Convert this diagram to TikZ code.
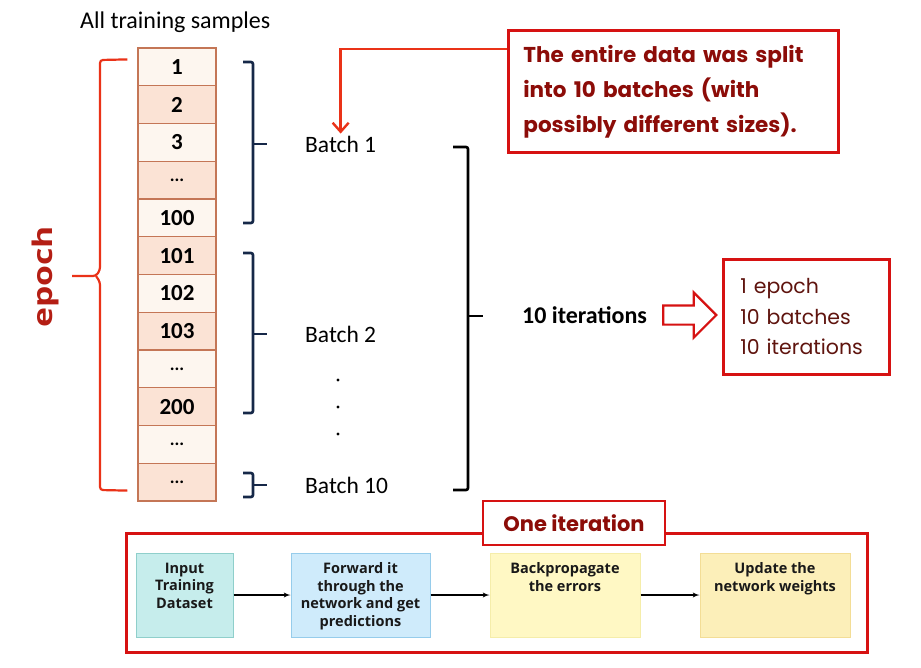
\documentclass[tikz,border=0pt]{standalone}
\usepackage{fontspec}
\usepackage{graphicx}
\setmainfont{Carlito}
\newfontfamily\popfont{Poppins}
\newfontfamily\osfont{Open Sans}
\usetikzlibrary{shapes,arrows,arrows.meta,calc}
\usepackage{color}

\definecolor{cellpale}{RGB}{253,246,239}
\definecolor{cellpeach}{RGB}{251,227,213}
\definecolor{cellline}{RGB}{196,118,86}
\definecolor{bracenavy}{RGB}{22,40,72}
\definecolor{epochred}{RGB}{234,50,24}
\definecolor{epochtext}{RGB}{180,30,20}
\definecolor{boxred}{RGB}{214,18,18}
\definecolor{notered}{RGB}{140,12,8}
\definecolor{sumred}{RGB}{95,20,14}
\definecolor{tealfill}{RGB}{198,237,236}
\definecolor{tealline}{RGB}{143,207,203}
\definecolor{bluefill}{RGB}{207,235,251}
\definecolor{blueline}{RGB}{150,204,235}
\definecolor{yellowfill}{RGB}{255,248,196}
\definecolor{yellowline}{RGB}{245,237,170}
\definecolor{sandfill}{RGB}{252,239,185}
\definecolor{sandline}{RGB}{243,221,150}

\newcommand{\moredots}{{\fontsize{18}{18}\selectfont\bfseries ...}}

\tikzset{
  cell/.style={draw=cellline, line width=1.2pt, minimum width=78pt, minimum height=37.75pt,
    inner sep=0pt, font=\fontsize{23}{23}\selectfont\bfseries},
  batchlabel/.style={anchor=west, inner sep=0pt, font=\fontsize{23.5}{23.5}\selectfont},
  navybrace/.style={draw=bracenavy, line width=2.6pt, rounded corners=2pt},
  redbox/.style={draw=boxred, line width=2.8pt},
  stepbox/.style={minimum height=84pt, line width=1pt, inner sep=0pt},
  steptext/.style={anchor=north, align=center, inner sep=0pt, text=black!90,
    font=\osfont\bfseries\fontsize{14.5}{17.5}\selectfont},
  steparrow/.style={->, line width=1.3pt}
}

\begin{document}
\begin{tikzpicture}[x=1pt, y=-1pt, >=latex']
\useasboundingbox[fill=white] (0,0) rectangle (921,667);

\node[anchor=west, inner sep=0pt, font=\fontsize{24}{24}\selectfont] at (80, 22) (TITLE) {All training samples};

% the samples
\foreach \lab/\shade [count=\i] in {1/cellpale, 2/cellpeach, 3/cellpale, \moredots/cellpeach,
    100/cellpale, 101/cellpeach, 102/cellpale, 103/cellpeach, \moredots/cellpale,
    200/cellpeach, \moredots/cellpale, \moredots/cellpeach}
  \node[cell, fill=\shade] at (177, {48+37.75*\i-18.875}) (s\i) {\lab};

% epoch brace
\draw[epochred, line width=2.2pt, rounded corners=3pt]
  ($(s1.north west)+(-10,12)$) -- (100,60) -- (100,270) -- (96,276) -- (72,276);
\draw[epochred, line width=2.2pt, rounded corners=3pt]
  ($(s12.south west)+(-10,-11)$) -- (100,490) -- (100,282) -- (96,276);
\node[rotate=90, text=epochtext, font=\osfont\bfseries\fontsize{27}{27}\selectfont]
  at (45, 277) (EPOCH) {\scalebox{1.25}[1]{epoch}};

% batches
\draw[navybrace] (243,62) -- (253,62) -- (253,223) -- (243,223);
\draw[navybrace] (253,144) -- (267,144);
\draw[navybrace] (243,253) -- (253,253) -- (253,413) -- (243,413);
\draw[navybrace] (253,334) -- (267,334);
\draw[navybrace] (243,473) -- (253,473) -- (253,497) -- (243,497);
\draw[navybrace] (253,485) -- (267,485);

\node[batchlabel] at (305,144) (B1) {Batch 1};
\node[batchlabel] at (305,334) (B2) {Batch 2};
\node[batchlabel] at (305,485) (B10) {Batch 10};
\foreach \y in {380,407,434}
  \fill (338,\y) circle (1.6pt);

% all batches
\draw[black, line width=2.6pt, rounded corners=2pt] (453,147) -- (468,147) -- (468,490) -- (453,490);
\draw[black, line width=2.6pt] (468,316) -- (483,316);
\node[anchor=west, inner sep=0pt, font=\fontsize{24}{24}\selectfont\bfseries] at (522,315) (ITER) {10 iterations};

\node[single arrow, draw=boxred, line width=2.2pt, fill=white, minimum height=53pt,
  single arrow head extend=13pt, inner xsep=0pt, inner ysep=8.5pt] at (685,315) (BIGARROW) {};

\node[redbox, anchor=north west, text width=132pt, inner xsep=17pt, minimum height=115pt, align=left,
  text=sumred, font=\popfont\fontsize{20.5}{30.5}\selectfont] at (722,258) (SUMMARY)
  {1 epoch\\10 batches\\10 iterations};

% note
\node[redbox, anchor=north west, text width=300pt, inner xsep=15pt, minimum height=122pt, align=left,
  text=notered, font=\popfont\bfseries\fontsize{21.5}{35}\selectfont] at (507,29) (NOTE)
  {The entire data was split\\into 10 batches (with\\possibly different sizes).};
\draw[epochred, line width=2.4pt, -{Straight Barb[length=9pt,width=16pt]}]
  ($(NOTE.north west)+(0,20)$) -| ($(B1.north)+(0,-2)$);

% one iteration
\node[redbox, anchor=north west, minimum width=741pt, minimum height=119pt] at (125,532) (LOOP) {};
\node[redbox, fill=white, minimum width=182pt, minimum height=44pt, text=notered,
  font=\popfont\bfseries\fontsize{21}{21}\selectfont] at (574,523) (ONEITER) {One iteration};

\node[stepbox, draw=tealline, fill=tealfill, minimum width=97pt] at (184.5,595) (INPUT) {};
\node[stepbox, draw=blueline, fill=bluefill, minimum width=139pt] at (360.5,595) (FORWARD) {};
\node[stepbox, draw=yellowline, fill=yellowfill, minimum width=150pt] at (565,595) (BACKPROP) {};
\node[stepbox, draw=sandline, fill=sandfill, minimum width=150pt] at (775,595) (UPDATE) {};

\node[steptext] at ($(INPUT.north)+(0,10)$) (INPUTTXT) {Input\\Training\\Dataset};
\node[steptext] at ($(FORWARD.north)+(0,10)$) (FORWARDTXT) {Forward it\\through the\\network and get\\predictions};
\node[steptext] at ($(BACKPROP.north)+(0,10)$) (BACKPROPTXT) {Backpropagate\\the errors};
\node[steptext] at ($(UPDATE.north)+(0,10)$) (UPDATETXT) {Update the\\network weights};

\draw[steparrow] (INPUT) -- (FORWARD);
\draw[steparrow] (FORWARD) -- (BACKPROP);
\draw[steparrow] (BACKPROP) -- (UPDATE);
\end{tikzpicture}
\end{document}
